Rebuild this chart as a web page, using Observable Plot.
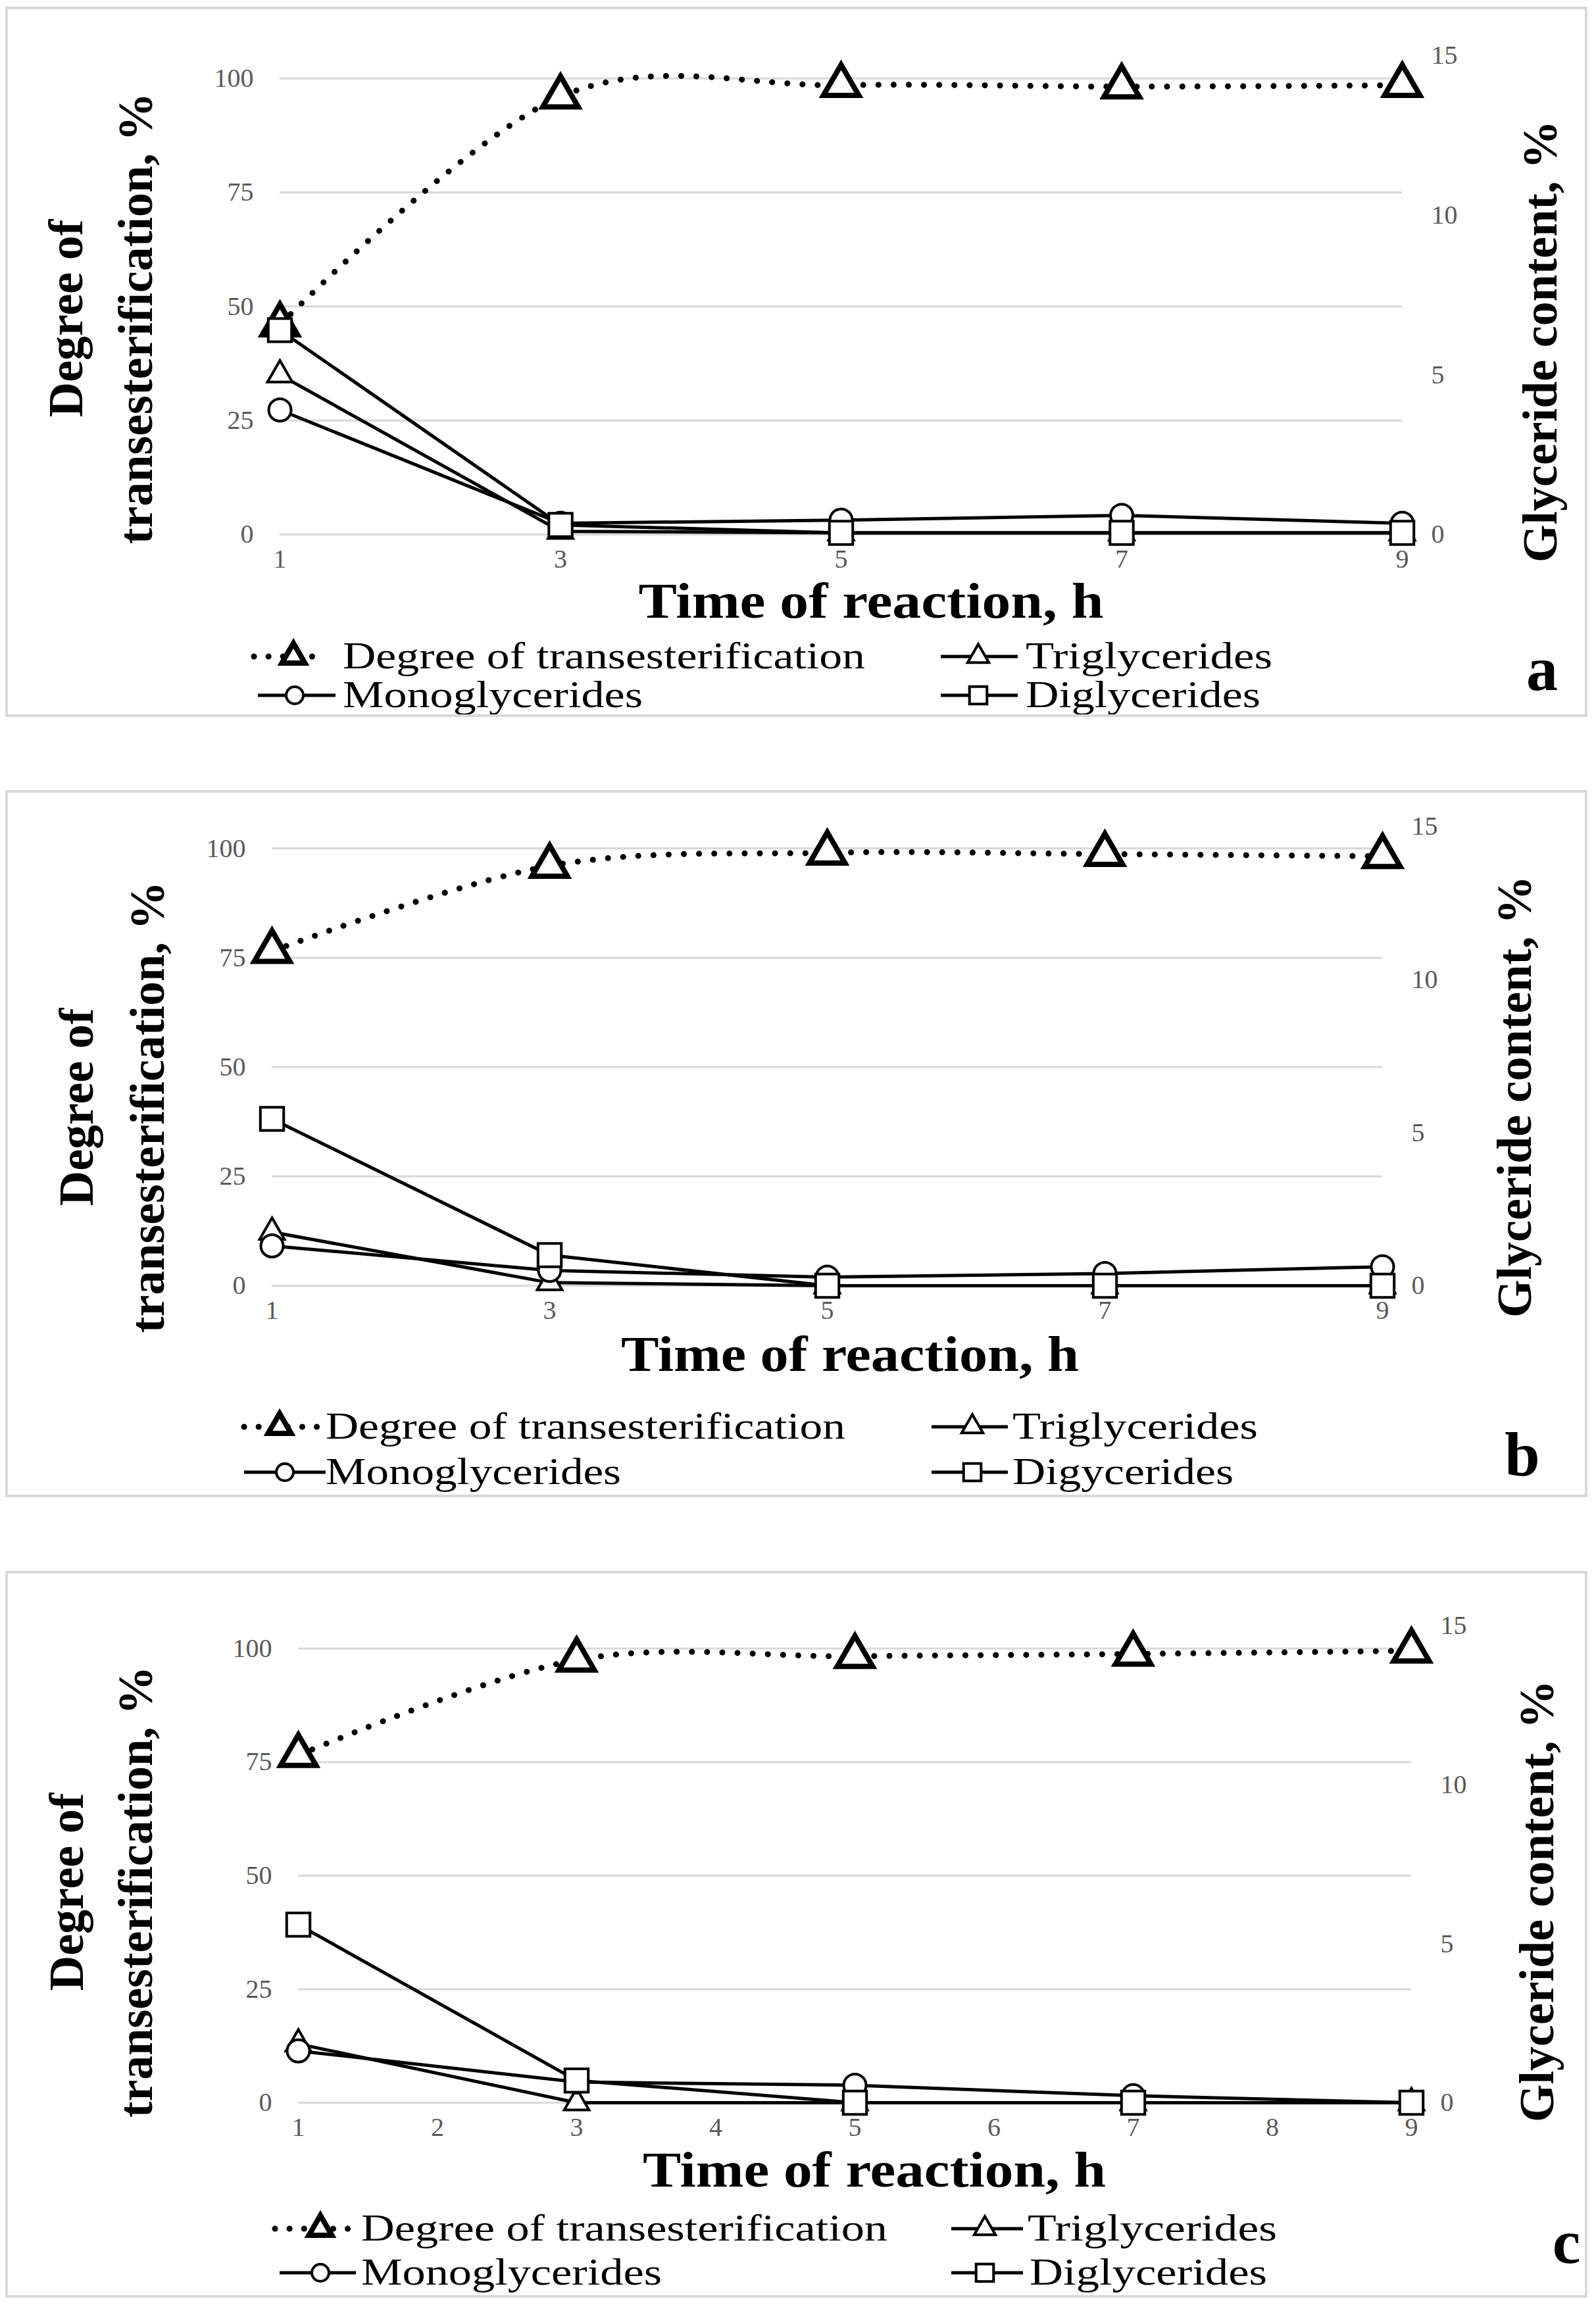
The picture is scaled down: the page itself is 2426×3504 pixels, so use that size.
<!DOCTYPE html>
<html><head><meta charset="utf-8">
<script src="https://cdn.jsdelivr.net/npm/d3@7"></script>
<script src="https://cdn.jsdelivr.net/npm/@observablehq/plot@0.6"></script>
<style>
html,body{margin:0;padding:0;background:#fff}
body{width:2426px;height:3504px;position:relative;font-family:"Liberation Serif","Times New Roman",serif}
.panel{position:absolute;left:8px;width:2405px}
.panel svg{position:absolute;left:0;top:0}
.frame{position:absolute;left:0;top:0;right:0;bottom:0;border:4px solid #d9d9d9;box-sizing:border-box;pointer-events:none}
</style></head><body>
<div id="pa" class="panel" style="top:10px;height:1080px"></div>
<div id="pb" class="panel" style="top:1201px;height:1075px"></div>
<div id="pc" class="panel" style="top:2388px;height:1105px"></div>
<script>
// ---------- data ----------
const times = [1, 3, 5, 7, 9];

// panel a
const degreeA = [46, 96, 98.5, 98.2, 98.5];
const triA    = [5.0, 0.1, 0.05, 0.05, 0.05];
const monoA   = [3.9, 0.35, 0.45, 0.6, 0.35];
const diA     = [6.4, 0.3, 0.05, 0.05, 0.05];

// panel b
const degreeB = [76.5, 96, 99, 98.7, 98.2];
const triB    = [1.75, 0.1, 0, 0, 0];
const monoB   = [1.3, 0.5, 0.28, 0.4, 0.62];
const diB     = [5.45, 1.0, 0, 0, 0];

// panel c
const degreeC = [76.5, 97.5, 98.3, 98.8, 99.5];
const triC    = [1.85, 0, 0, 0, 0];
const monoC   = [1.63, 0.65, 0.55, 0.22, 0];
const diC     = [5.6, 0.7, 0, 0, 0];

const leftTicks  = [0, 25, 50, 75, 100];
const rightTicks = [0, 5, 10, 15];
const xTicksAB   = [1, 3, 5, 7, 9];
const xTicksC    = [1, 2, 3, 4, 5, 6, 7, 8, 9];

const yTitle1 = "Degree of";
const yTitle2 = "transesterification, %";
const y2Title = "Glyceride content, %";
const xTitle  = "Time of reaction, h";
const legendA = ["Degree of transesterification", "Triglycerides", "Monoglycerides", "Diglycerides"];
const legendB = ["Degree of transesterification", "Triglycerides", "Monoglycerides", "Digycerides"];
const legendC = ["Degree of transesterification", "Triglycerides", "Monoglycerides", "Diglycerides"];
const panelLetters = ["a", "b", "c"];

// ---------- drawing ----------
const K = 105 / 15; // right axis (0–15) mapped onto left axis domain (0–105)
const FONT = "Liberation Serif, Times New Roman, serif";

function series(vals, scale) { return times.map((t, i) => ({t, v: vals[i] * scale})); }

function drawPanel(id, cfg) {
  const deg = series(cfg.degree, 1);
  const tri = series(cfg.tri, K), mono = series(cfg.mono, K), di = series(cfg.di, K);
  const lineOpts = {x: "t", y: "v", stroke: "#000", strokeWidth: 5};
  const dotOpts = {x: "t", y: "v", stroke: "#000", strokeWidth: 4, fill: "#fff"};
  const svgEl = Plot.plot({
    width: 2405, height: cfg.H,
    marginLeft: cfg.ml, marginRight: cfg.mr, marginTop: cfg.mt, marginBottom: cfg.mb,
    x: {domain: [1, 9]},
    y: {domain: [0, 105]},
    style: {fontFamily: FONT, background: "none"},
    marks: [
      Plot.ruleY(leftTicks, {stroke: "#d9d9d9", strokeWidth: 3}),
      Plot.axisY(leftTicks, {anchor: "left", tickSize: 0, tickPadding: 40, fontSize: 40, color: "#595959", label: null, tickFormat: d => String(d)}),
      Plot.axisY(rightTicks.map(v => v * K), {anchor: "right", tickSize: 0, tickPadding: 44, fontSize: 40, color: "#595959", label: null, tickFormat: d => String(Math.round(d / K))}),
      Plot.axisX(cfg.xTicks, {anchor: "bottom", tickSize: 0, tickPadding: 22, fontSize: 40, color: "#595959", label: null, tickFormat: d => String(d)}),
      Plot.line(deg, {x: "t", y: "v", curve: "cardinal", stroke: "#000", strokeWidth: 9, strokeDasharray: "0.1 23", strokeLinecap: "round"}),
      Plot.dot(deg, {x: "t", y: "v", symbol: "triangle", r: 20, stroke: "#000", strokeWidth: 8, fill: "#fff"}),
      Plot.line(tri, lineOpts),
      Plot.line(mono, lineOpts),
      Plot.line(di, lineOpts),
      Plot.dot(tri, {...dotOpts, symbol: "triangle", r: 14}),
      Plot.dot(mono, {...dotOpts, symbol: "circle", r: 17}),
      Plot.dot(di, {...dotOpts, symbol: "square", r: 20})
    ]
  });
  const svg = d3.select(svgEl);
  const g = svg.append("g").attr("font-family", FONT).attr("fill", "#000").attr("text-anchor", "start");

  // axis titles
  g.append("text").attr("transform", `translate(${cfg.lt1},${cfg.ltY}) rotate(-90)`)
    .attr("text-anchor", "middle").attr("dominant-baseline", "central")
    .attr("font-size", 74).attr("font-weight", "bold").text(yTitle1);
  g.append("text").attr("transform", `translate(${cfg.lt2},${cfg.ltY}) rotate(-90)`)
    .attr("text-anchor", "middle").attr("dominant-baseline", "central")
    .attr("font-size", 74).attr("font-weight", "bold").text(yTitle2);
  g.append("text").attr("transform", `translate(${cfg.rtX},${cfg.rtY}) rotate(-90)`)
    .attr("text-anchor", "middle").attr("dominant-baseline", "central")
    .attr("font-size", 74).attr("font-weight", "bold").text(y2Title);
  g.append("text").attr("x", cfg.xtX - cfg.xtLen / 2).attr("y", cfg.xtY + 11)
    .attr("text-anchor", "start")
    .attr("font-size", 76).attr("font-weight", "bold")
    .attr("textLength", cfg.xtLen).attr("lengthAdjust", "spacingAndGlyphs").text(xTitle);

  // legend
  const L = cfg.leg;
  const rowsY = L.rows;
  const kinds = ["degree", "tri", "mono", "di"];
  const rowOf = [0, 0, 1, 1];
  kinds.forEach((k, i) => {
    const it = L.items[i];
    const base = rowsY[rowOf[i]];
    const cy = base - 18;
    if (k === "degree") {
      g.append("line").attr("x1", it.x1).attr("x2", it.x2).attr("y1", cy).attr("y2", cy)
        .attr("stroke", "#000").attr("stroke-width", 9).attr("stroke-dasharray", "0.1 22").attr("stroke-linecap", "round");
      g.append("path").attr("d", d3.symbol(d3.symbolTriangle, Math.PI * 13 * 13)())
        .attr("transform", `translate(${it.mx},${cy})`)
        .attr("fill", "#fff").attr("stroke", "#000").attr("stroke-width", 8);
    } else {
      g.append("line").attr("x1", it.x1).attr("x2", it.x2).attr("y1", cy).attr("y2", cy)
        .attr("stroke", "#000").attr("stroke-width", 5);
      const sym = k === "tri" ? d3.symbolTriangle : k === "mono" ? d3.symbolCircle : d3.symbolSquare;
      const rr = k === "tri" ? 12 : k === "mono" ? 13 : 15;
      g.append("path").attr("d", d3.symbol(sym, Math.PI * rr * rr)())
        .attr("transform", `translate(${it.mx},${cy})`)
        .attr("fill", "#fff").attr("stroke", "#000").attr("stroke-width", 4);
    }
    g.append("text").attr("x", it.tx).attr("y", base).attr("font-size", 58)
      .attr("text-anchor", "start")
      .attr("textLength", it.len).attr("lengthAdjust", "spacingAndGlyphs").text(cfg.labels[i]);
  });

  // panel letter
  g.append("text").attr("x", cfg.letX).attr("y", cfg.letY).attr("text-anchor", "middle")
    .attr("font-size", 96).attr("font-weight", "bold").text(cfg.letter);

  const host = document.getElementById(id);
  host.appendChild(svgEl);
  const fr = document.createElement("div"); fr.className = "frame"; host.appendChild(fr);
}

drawPanel("pa", {
  degree: degreeA, tri: triA, mono: monoA, di: diA, xTicks: xTicksAB, labels: legendA, letter: panelLetters[0],
  H: 1080, ml: 417, mr: 282, mt: 74, mb: 278,
  lt1: 92, lt2: 198, ltY: 474, rtX: 2333, rtY: 509,
  xtX: 1316, xtY: 918, xtLen: 707,
  leg: {rows: [1006, 1065], items: [
    {x1: 378, x2: 487, mx: 438, tx: 513, len: 794},
    {x1: 1422, x2: 1539, mx: 1479, tx: 1551, len: 375},
    {x1: 384, x2: 502, mx: 440, tx: 513, len: 456},
    {x1: 1422, x2: 1539, mx: 1479, tx: 1551, len: 357}
  ]},
  letX: 2336, letY: 1039
});

drawPanel("pb", {
  degree: degreeB, tri: triB, mono: monoB, di: diB, xTicks: xTicksAB, labels: legendB, letter: panelLetters[1],
  H: 1075, ml: 405, mr: 312, mt: 55, mb: 322,
  lt1: 108, lt2: 216, ltY: 482, rtX: 2294, rtY: 466,
  xtX: 1284, xtY: 872, xtLen: 696,
  leg: {rows: [986, 1055], items: [
    {x1: 363, x2: 480, mx: 417, tx: 487, len: 790},
    {x1: 1408, x2: 1524, mx: 1470, tx: 1531, len: 373},
    {x1: 363, x2: 487, mx: 425, tx: 487, len: 449},
    {x1: 1408, x2: 1524, mx: 1470, tx: 1531, len: 336}
  ]},
  letX: 2306, letY: 1042
});

drawPanel("pc", {
  degree: degreeC, tri: triC, mono: monoC, di: diC, xTicks: xTicksC, labels: legendC, letter: panelLetters[2],
  H: 1105, ml: 445, mr: 268, mt: 83, mb: 297,
  lt1: 93, lt2: 198, ltY: 488, rtX: 2328, rtY: 502,
  xtX: 1321, xtY: 925, xtLen: 704,
  leg: {rows: [1018, 1085], items: [
    {x1: 410, x2: 530, mx: 479, tx: 541, len: 800},
    {x1: 1438, x2: 1547, mx: 1489, tx: 1554, len: 379},
    {x1: 417, x2: 533, mx: 479, tx: 541, len: 457},
    {x1: 1438, x2: 1547, mx: 1489, tx: 1557, len: 361}
  ]},
  letX: 2373, letY: 1052
});
</script>
</body></html>
